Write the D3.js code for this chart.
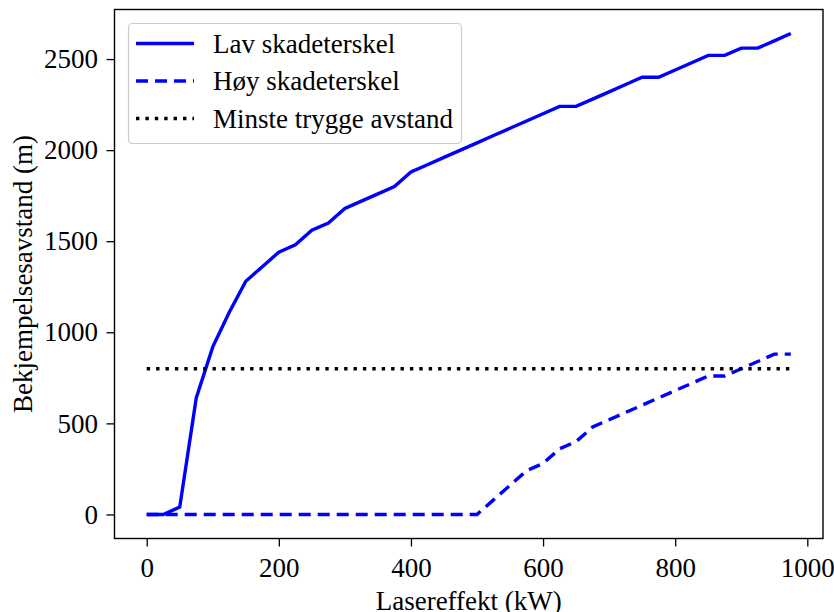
<!DOCTYPE html>
<html>
<head>
<meta charset="utf-8">
<script src="https://cdn.jsdelivr.net/npm/d3@7"></script>
<style>
  body { margin: 0; background: #fff; }
  svg { display: block; font-family: "Liberation Serif", "Times New Roman", serif; }
</style>
</head>
<body>
<svg width="834" height="612"></svg>
<script>
// laser power (kW)
var power = [0, 25, 50, 75, 100, 125, 150, 175, 200, 225, 250, 275, 300, 325, 350, 375, 400, 425, 450, 475,
             500, 525, 550, 575, 600, 625, 650, 675, 700, 725, 750, 775, 800, 825, 850, 875, 900, 925, 950, 975]
// distances (m)
var lav = [0, 0, 40, 640, 920, 1110, 1280, 1360, 1440, 1480, 1560, 1600, 1680, 1720, 1760, 1800, 1880, 1920, 1960, 2000,
           2040, 2080, 2120, 2160, 2200, 2240, 2240, 2280, 2320, 2360, 2400, 2400, 2440, 2480, 2520, 2520, 2560, 2560, 2600, 2640]
var hoy = [0, 0, 0, 0, 0, 0, 0, 0, 0, 0, 0, 0, 0, 0, 0, 0, 0, 0, 0, 0,
           0, 80, 160, 240, 280, 360, 400, 480, 520, 560, 600, 640, 680, 720, 760, 760, 800, 840, 880, 880]
var safeX = [0, 975]
var safe = [800, 800]

var xTicks = [0, 200, 400, 600, 800, 1000]
var yTicks = [0, 500, 1000, 1500, 2000, 2500]
var seriesNames = ['Lav skadeterskel', 'Høy skadeterskel', 'Minste trygge avstand']

var svg = d3.select('svg')
var fontSize = 27
var plotLeft = 114.5, plotRight = 823, plotTop = 9.5, plotBottom = 538.5

var x = d3.scaleLinear().domain([-48.75, 1023.75]).range([plotLeft, plotRight])
var y = d3.scaleLinear().domain([-132, 2772]).range([plotBottom, plotTop])

const line = d3.line().x(d => x(d[0])).y(d => y(d[1]))

var styles = [
    {color: '#0000ff', dash: null},
    {color: '#0000ff', dash: '12,7'},
    {color: '#000000', dash: '3.4,6'}
]
var series = [
    d3.zip(power, lav),
    d3.zip(power, hoy),
    d3.zip(safeX, safe)
]

const plot = svg.append('g')
series.forEach((s, i) => {
    plot.append('path')
        .attr('d', line(s))
        .style('fill', 'none')
        .style('stroke', styles[i].color)
        .style('stroke-width', 3.4)
        .style('stroke-dasharray', styles[i].dash)
})

// axes
svg.append('g')
    .attr('transform', `translate(0,${plotBottom})`)
    .call(d3.axisBottom(x).tickValues(xTicks).tickSize(8).tickPadding(11).tickFormat(d3.format('d')))
svg.append('g')
    .attr('transform', `translate(${plotLeft},0)`)
    .call(d3.axisLeft(y).tickValues(yTicks).tickSize(8).tickPadding(8.5).tickFormat(d3.format('d')))

svg.selectAll('.domain').remove()
svg.selectAll('.tick line').style('stroke', '#000').style('stroke-width', 1.3)
svg.selectAll('.tick text')
    .style('font-family', '"Liberation Serif", serif')
    .style('font-size', fontSize + 'px')
    .style('fill', '#000')

svg.append('rect')
    .attr('x', plotLeft).attr('y', plotTop)
    .attr('width', plotRight - plotLeft).attr('height', plotBottom - plotTop)
    .style('fill', 'none').style('stroke', '#000').style('stroke-width', 1.4)

// axis labels
svg.append('text')
    .attr('x', (plotLeft + plotRight) / 2)
    .attr('y', 610)
    .attr('text-anchor', 'middle')
    .style('font-size', fontSize + 'px')
    .text('Lasereffekt (kW)')

svg.append('text')
    .attr('transform', `translate(32,${(plotTop + plotBottom) / 2}) rotate(-90)`)
    .attr('text-anchor', 'middle')
    .style('font-size', fontSize + 'px')
    .text('Bekjempelsesavstand (m)')

// legend
const legend = svg.append('g')
legend.append('rect')
    .attr('x', 128.5).attr('y', 23.5)
    .attr('width', 333).attr('height', 120)
    .attr('rx', 4)
    .style('fill', '#fff').style('fill-opacity', 0.8)
    .style('stroke', '#cccccc').style('stroke-width', 1.2)

seriesNames.forEach((name, i) => {
    let ly = 43.5 + i * 37.5
    legend.append('line')
        .attr('x1', 136).attr('x2', 194)
        .attr('y1', ly).attr('y2', ly)
        .style('stroke', styles[i].color)
        .style('stroke-width', 3.4)
        .style('stroke-dasharray', styles[i].dash)
    legend.append('text')
        .attr('x', 213)
        .attr('y', ly + 9)
        .style('font-size', fontSize + 'px')
        .text(name)
})
</script>
</body>
</html>
